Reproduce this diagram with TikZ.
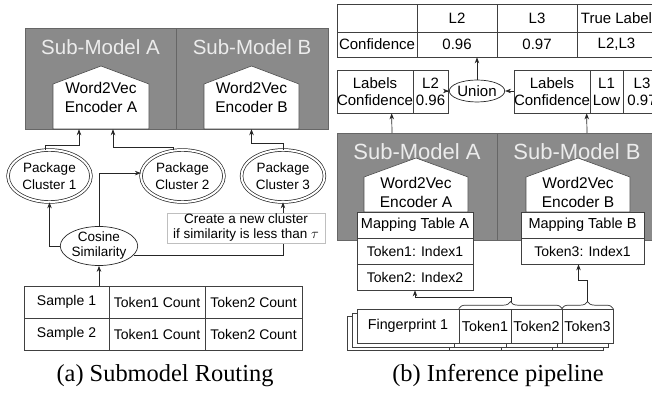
\documentclass[tikz,border=0pt]{standalone}
\usepackage{fontspec}
\setmainfont{Liberation Sans}
\newfontfamily\capfont{Liberation Serif}
\usetikzlibrary{shapes.geometric,decorations.pathreplacing,arrows.meta,calc}
\definecolor{smgray}{RGB}{138,138,138}
\definecolor{smtext}{RGB}{236,236,236}
\begin{document}
\begin{tikzpicture}[x=1pt,y=-1pt,
  arr/.style={-{Stealth[length=6pt,width=4.5pt]}, line width=0.7pt, draw=black!85},
  smbox/.style={draw=black!60, fill=smgray, line width=0.8pt, inner sep=0pt, anchor=north west},
  smtitle/.style={text=smtext, inner sep=0pt},
  pent/.style={draw=black!70, fill=white, line width=0.6pt},
  enctext/.style={inner sep=0pt, align=center, font=\fontsize{15.5}{19}\selectfont},
  cluster/.style={ellipse, draw=black!85, double, double distance=2pt, line width=0.7pt,
    minimum width=83pt, minimum height=52pt, inner sep=0pt, align=center,
    font=\fontsize{13.5}{17.5}\selectfont},
  tcell/.style={draw=black!75, line width=0.7pt, inner sep=0pt, fill=white,
    font=\fontsize{14}{16}\selectfont},
  rcell/.style={draw=black!75, line width=0.7pt, inner sep=0pt, fill=white,
    font=\fontsize{15}{17}\selectfont, align=center},
  mcell/.style={draw=black!75, line width=0.7pt, inner sep=0pt, fill=white, minimum height=26pt},
  fpcell/.style={draw=black!75, line width=0.7pt, inner sep=0pt, fill=white,
    minimum height=34pt, font=\fontsize{14.3}{16}\selectfont},
  fpback/.style={draw=black!75, line width=0.7pt, fill=white},
  bracedeco/.style={decorate, decoration={brace, amplitude=7pt}, draw=black!80, line width=0.7pt},
  captext/.style={inner sep=0pt, font=\capfont\fontsize{24.4}{28}\selectfont}
]
\useasboundingbox (0,0) rectangle (652,398);
\clip (0,0) rectangle (652,398);

% ===== (a) Submodel Routing =====
\node[smbox, minimum width=151pt, minimum height=101pt] (smA) at (25,28) {};
\node[smbox, minimum width=152pt, minimum height=101pt] (smB) at (176,28) {};
\node[smtitle, font=\fontsize{20.5}{24}\selectfont] (smAt) at (100.5,47) {Sub-Model A};
\node[smtitle, font=\fontsize{20.5}{24}\selectfont] (smBt) at (252,47) {Sub-Model B};
\draw[pent] (53,129) -- (53,84) -- (101,66) -- (149,84) -- (149,129) -- cycle;
\draw[pent] (204,129) -- (204,84) -- (251.5,66) -- (299,84) -- (299,129) -- cycle;
\node[enctext, minimum width=96pt, minimum height=63pt] (encA) at (101,97.5) {Word2Vec\\Encoder A};
\node[enctext, minimum width=95pt, minimum height=63pt] (encB) at (251.5,97.5) {Word2Vec\\Encoder B};

\node[cluster] (c1) at (49.5,176) {Package\\Cluster 1};
\node[cluster] (c2) at (182.5,176) {Package\\Cluster 2};
\node[cluster] (c3) at (283,176) {Package\\Cluster 3};

\node[ellipse, draw=black!85, line width=0.7pt, minimum width=62pt, minimum height=34pt,
  inner sep=0pt, align=center, font=\fontsize{13.5}{15}\selectfont] (cos) at (99,246) {Cosine\\Similarity};

\node[tcell, minimum width=85pt, minimum height=32pt] (s1) at (66.5,302) {Sample 1};
\node[tcell, minimum width=96pt, minimum height=32pt] (s1a) at (157,302) {Token1 Count};
\node[tcell, minimum width=97pt, minimum height=32pt] (s1b) at (253.5,302) {Token2 Count};
\node[tcell, minimum width=85pt, minimum height=32pt] (s2) at (66.5,334) {Sample 2};
\node[tcell, minimum width=96pt, minimum height=32pt] (s2a) at (157,334) {Token1 Count};
\node[tcell, minimum width=97pt, minimum height=32pt] (s2b) at (253.5,334) {Token2 Count};

\draw[arr] (cos.south |- s1.north) -- (cos.south);
\draw[arr] (cos.west) -| (c1.south);
\draw[arr] (cos.north) |- (c2.176);
\draw[arr] (cos.-15) -| (c3.south);
\draw[arr] (c1.100) |- ($(encA.south)+(-22,16)$) -- ($(encA.south)+(-22,0)$);
\draw[arr] (c2.110) |- ($(encA.south)+(12,18)$) -- ($(encA.south)+(12,0)$);
\draw[arr] (c3.north) |- ($(encB.south)+(0,14)$) -- (encB.south);

\node[draw=black!25, fill=white, line width=0.6pt, inner sep=0pt, minimum width=158pt,
  minimum height=30pt, align=center, font=\fontsize{13.5}{15}\selectfont] (note) at (246,228)
  {Create a new cluster\\if similarity is less than $\tau$};

\node[captext] (capa) at (165,376) {(a) Submodel Routing};

% ===== (b) Inference pipeline =====
\node[rcell, minimum width=80pt, minimum height=28pt] (tt00) at (377,18) {};
\node[rcell, minimum width=80pt, minimum height=28pt] (tt01) at (457,18) {L2};
\node[rcell, minimum width=80pt, minimum height=28pt] (tt02) at (537,18) {L3};
\node[rcell, minimum width=79pt, minimum height=28pt] (tt03) at (616.5,18) {True Label};
\node[rcell, minimum width=80pt, minimum height=25pt] (tt10) at (377,44.5) {Confidence};
\node[rcell, minimum width=80pt, minimum height=25pt] (tt11) at (457,44.5) {0.96};
\node[rcell, minimum width=80pt, minimum height=25pt] (tt12) at (537,44.5) {0.97};
\node[rcell, minimum width=79pt, minimum height=25pt] (tt13) at (616.5,44.5) {L2,L3};

\node[rcell, minimum width=76pt, minimum height=43pt] (lt1) at (375,91.5) {Labels\\Confidence};
\node[rcell, minimum width=35pt, minimum height=43pt] (lt2) at (430.5,91.5) {L2\\0.96};
\node[rcell, minimum width=76pt, minimum height=43pt] (rt1) at (552,91.5) {Labels\\Confidence};
\node[rcell, minimum width=33pt, minimum height=43pt] (rt2) at (606.5,91.5) {L1\\Low};
\node[rcell, minimum width=38pt, minimum height=43pt] (rt3) at (642,91.5) {L3\\0.97};

\node[ellipse, draw=black!85, line width=0.7pt, minimum width=35pt, minimum height=22pt,
  inner sep=0pt, font=\fontsize{15}{17}\selectfont] (un) at (477,91) {Union};
\draw[arr] (lt2.east |- un.west) -- (un.west);
\draw[arr] (rt1.west |- un.east) -- (un.east);
\draw[arr] (un.north) -- (un.north |- tt11.south);

\node[smbox, minimum width=160pt, minimum height=107pt] (smRA) at (337,133) {};
\node[smbox, minimum width=160pt, minimum height=107pt] (smRB) at (497,133) {};
\node[smtitle, font=\fontsize{22}{26}\selectfont] (smRAt) at (417,152) {Sub-Model A};
\node[smtitle, font=\fontsize{22}{26}\selectfont] (smRBt) at (577,152) {Sub-Model B};
\draw[arr] ($(smRA.north west)+(55,0)$) -- ($(lt1.south west)+(55,0)$);
\draw[arr] ($(smRB.north west)+(90,0)$) -- ($(rt1.south west)+(73,0)$);

\draw[pent] (364,212) -- (364,177) -- (416,158) -- (468,177) -- (468,212) -- cycle;
\draw[pent] (526,212) -- (526,177) -- (578,158) -- (630,177) -- (630,212) -- cycle;
\node[enctext, minimum width=104pt, minimum height=39pt] (encRA) at (416,192.5) {Word2Vec\\Encoder A};
\node[enctext, minimum width=104pt, minimum height=39pt] (encRB) at (578,192.5) {Word2Vec\\Encoder B};

\node[mcell, minimum width=116pt, font=\fontsize{14.5}{16}\selectfont] (mA1) at (415,225) {Mapping Table A};
\node[mcell, minimum width=116pt, font=\fontsize{14}{16}\selectfont] (mA2) at (415,251) {Token1: Index1};
\node[mcell, minimum width=116pt, font=\fontsize{14}{16}\selectfont] (mA3) at (415,277) {Token2: Index2};
\node[mcell, minimum width=123pt, font=\fontsize{14.5}{16}\selectfont] (mB1) at (582.5,225) {Mapping Table B};
\node[mcell, minimum width=123pt, font=\fontsize{14}{16}\selectfont] (mB2) at (582.5,251) {Token3: Index1};

% stacked fingerprints (back sheets)
\draw[fpback] (347,316) rectangle (603,350);
\draw[black!75, line width=0.7pt] (449,343) -- (449,350) (501,343) -- (501,350) (552,343) -- (552,350);
\draw[fpback] (352,313) rectangle (608,347);
\draw[black!75, line width=0.7pt] (454,343) -- (454,347) (506,343) -- (506,347) (557,343) -- (557,347);
\node[fpcell, minimum width=102pt] (fp) at (408,326) {Fingerprint 1};
\node[fpcell, minimum width=52pt] (tk1) at (485,326) {Token1};
\node[fpcell, minimum width=51pt] (tk2) at (536.5,326) {Token2};
\node[fpcell, minimum width=51pt] (tk3) at (587.5,326) {Token3};

\draw[bracedeco] (tk1.north west) -- (tk2.north east);
\draw[bracedeco] (tk3.north west) -- (tk3.north east);
\coordinate (b12) at ($(tk1.north east)+(0,-7)$);
\coordinate (b3) at ($(tk3.north)+(0,-7)$);
\draw[arr] (b12) |- ($(mA3.south)+(0,7)$) -- (mA3.south);
\draw[arr] (b3) |- ($(mB2.south)+(-4,16)$) -- ($(mB2.south)+(-4,0)$);

\node[captext] (capb) at (498,376) {(b) Inference pipeline};
\end{tikzpicture}
\end{document}
